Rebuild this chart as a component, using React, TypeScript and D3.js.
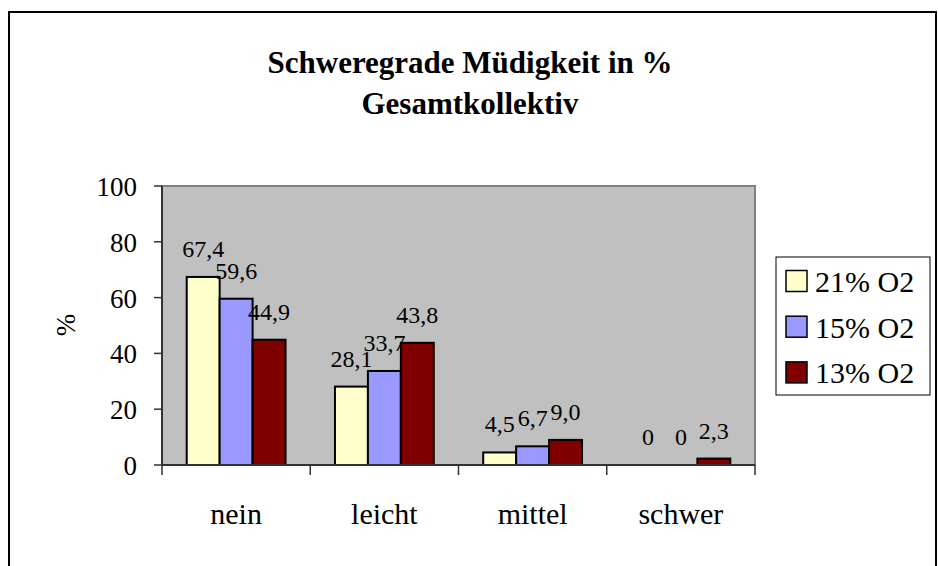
import React from "react";
import * as d3 from "d3";

const categories = ["nein", "leicht", "mittel", "schwer"];
const seriesNames = ["21% O2", "15% O2", "13% O2"];
const seriesColors = ["#FFFFCC", "#9999FF", "#800000"];
const values21 = [67.4, 28.1, 4.5, 0];
const values15 = [59.6, 33.7, 6.7, 0];
const values13 = [44.9, 43.8, 9.0, 2.3];
const yTicks = [0, 20, 40, 60, 80, 100];

const fmt = (v: number) => (v === 0 ? "0" : v.toFixed(1).replace(".", ","));

const left = 162, right = 755, top = 186, bottom = 465;

const App = () => {
  const x = d3.scaleBand().domain(categories).range([left, right]);
  const y = d3.scaleLinear().domain([0, 100]).range([bottom, top]);
  const barW = x.bandwidth() / 4.5;
  const sub = d3.scaleBand().domain(seriesNames).range([0, barW * 3]);
  const series = [values21, values15, values13];
  const bounds = categories.map(c => x(c)!).concat([right]);

  return (
    <svg width={938} height={566} style={{ position: "absolute", left: 0, top: 0, fontFamily: "Liberation Serif" }}>
      <rect x={9} y={12} width={927} height={570} fill="#fff" stroke="#000" strokeWidth={2} />
      <text textAnchor="middle" fontWeight="bold" fontSize={31}>
        <tspan x={470} y={73}>Schweregrade Müdigkeit in %</tspan>
        <tspan x={470} y={114}>Gesamtkollektiv</tspan>
      </text>

      <rect x={left} y={top} width={right - left} height={bottom - top} fill="#C0C0C0" stroke="#808080" strokeWidth={2} />

      {series.map((vals, si) => (
        <g key={si}>
          {vals.map((v, i) => {
            const bx = x(categories[i])! + barW * 0.75 + sub(seriesNames[si])!;
            return (
              <g key={i}>
                {v > 0 && (
                  <rect x={bx} y={y(v)} width={barW} height={bottom - y(v)}
                    fill={seriesColors[si]} stroke="#000" strokeWidth={2} />
                )}
                <text x={bx + barW / 2} y={y(v) - 20} textAnchor="middle" fontSize={24}>{fmt(v)}</text>
              </g>
            );
          })}
        </g>
      ))}

      {/* y axis */}
      <line x1={left} x2={left} y1={top} y2={bottom} stroke="#333" strokeWidth={2} />
      {yTicks.map(t => (
        <g key={t}>
          <line x1={left - 8} x2={left} y1={y(t)} y2={y(t)} stroke="#333" strokeWidth={1.5} />
          <text x={left - 25} y={y(t) + 10} textAnchor="end" fontSize={27}>{t}</text>
        </g>
      ))}

      {/* x axis */}
      <line x1={left} x2={right} y1={bottom} y2={bottom} stroke="#333" strokeWidth={2} />
      {bounds.map((b, i) => (
        <line key={i} x1={b} x2={b} y1={bottom} y2={bottom + 10} stroke="#333" strokeWidth={1.5} />
      ))}
      {categories.map(c => (
        <text key={c} x={x(c)! + x.bandwidth() / 2} y={524} textAnchor="middle" fontSize={30}>{c}</text>
      ))}

      <text transform="translate(75,325) rotate(-90)" textAnchor="middle" fontSize={27}>%</text>

      {/* legend */}
      <rect x={776} y={257} width={154} height={138} fill="#fff" stroke="#000" strokeWidth={1} />
      {seriesNames.map((name, i) => {
        const cy = 281 + i * 45.7;
        return (
          <g key={name}>
            <rect x={786} y={cy - 10.5} width={21} height={21} fill={seriesColors[i]} stroke="#000" strokeWidth={1.5} />
            <text x={815} y={cy + 11} fontSize={30}>{name}</text>
          </g>
        );
      })}
    </svg>
  );
};

export default App;
